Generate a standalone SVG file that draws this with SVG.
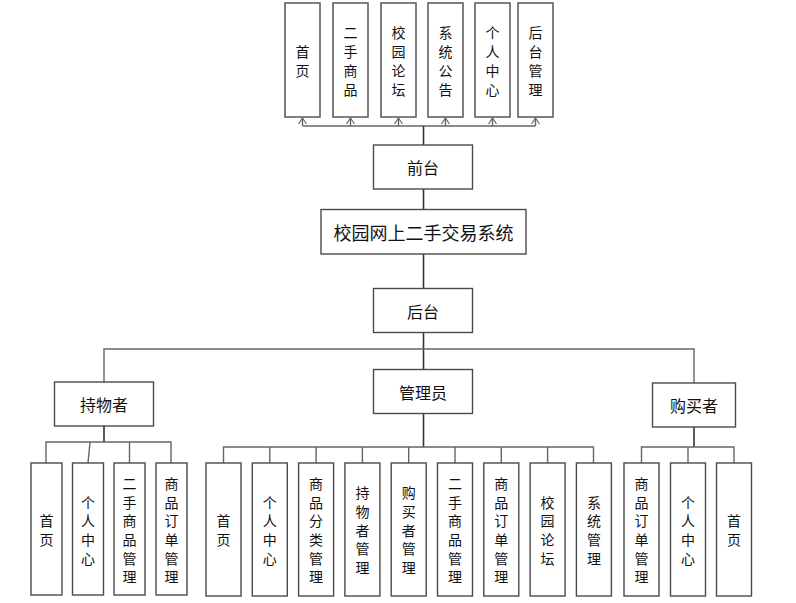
<svg xmlns="http://www.w3.org/2000/svg" width="796" height="603" viewBox="0 0 796 603">
<style>
.box{fill:#fff;stroke:#4a4a4a;stroke-width:1.4}
.ln{fill:none;stroke:#666;stroke-width:1.4}
.tr{fill:none;stroke:#333;stroke-width:1.6}
text{font-family:"Noto Sans CJK SC","Noto Sans",sans-serif;fill:#111;text-anchor:middle;dominant-baseline:central}
.v{font-size:14px}
.h{font-size:16px}
.t{font-size:18px}
</style>
<defs>
<marker id="arr" markerWidth="10" markerHeight="10" refX="8" refY="5" orient="auto" markerUnits="userSpaceOnUse">
<path d="M2,1 L8,5 L2,9" fill="none" stroke="#666" stroke-width="1.2"/>
</marker>
</defs>
<rect width="796" height="603" fill="#fff"/>
<g id="connectors">
<!-- top bus -->
<path class="ln" d="M302.5,126 H535.5"/>
<path class="ln" d="M302.5,126 V118" marker-end="url(#arr)"/>
<path class="ln" d="M350.5,126 V118" marker-end="url(#arr)"/>
<path class="ln" d="M398.5,126 V118" marker-end="url(#arr)"/>
<path class="ln" d="M445.5,126 V118" marker-end="url(#arr)"/>
<path class="ln" d="M492.5,126 V118" marker-end="url(#arr)"/>
<path class="ln" d="M535.5,126 V118" marker-end="url(#arr)"/>
<path class="tr" d="M423.5,126 V145"/>
<path class="tr" d="M423.5,189 V209"/>
<path class="tr" d="M423.5,254 V288"/>
<path class="tr" d="M423.5,333 V369"/>
<path class="ln" d="M104,382 V349 H694 V383"/>
<!-- left children -->
<path class="tr" d="M104,426 V442"/>
<path class="ln" d="M46,463 V442 H171 V463"/>
<path class="ln" d="M90,442 L88,463"/>
<path class="ln" d="M129.5,442 V463"/>
<!-- middle children -->
<path class="tr" d="M423.5,413 V447"/>
<path class="ln" d="M223.5,463 V447 H593.5 V463"/>
<path class="ln" d="M269.8,447 V463 M316.1,447 V463 M362.4,447 V463 M408.7,447 V463 M455,447 V463 M501.3,447 V463 M547.6,447 V463"/>
<!-- right children -->
<path class="tr" d="M694,427 V447"/>
<path class="ln" d="M641.5,463 V447 H734 V463"/>
<path class="ln" d="M688,447 V463"/>
</g>
<g id="n-front-home"><rect class="box" x="285" y="3" width="35" height="114"/><text class="v"><tspan x="302.5" y="50.5">首</tspan><tspan x="302.5" y="69.5">页</tspan></text></g>
<g id="n-front-goods"><rect class="box" x="333" y="3" width="35" height="114"/><text class="v"><tspan x="350.5" y="31.5">二</tspan><tspan x="350.5" y="50.5">手</tspan><tspan x="350.5" y="69.5">商</tspan><tspan x="350.5" y="88.5">品</tspan></text></g>
<g id="n-front-forum"><rect class="box" x="381" y="3" width="35" height="114"/><text class="v"><tspan x="398.5" y="31.5">校</tspan><tspan x="398.5" y="50.5">园</tspan><tspan x="398.5" y="69.5">论</tspan><tspan x="398.5" y="88.5">坛</tspan></text></g>
<g id="n-front-notice"><rect class="box" x="428" y="3" width="35" height="114"/><text class="v"><tspan x="445.5" y="31.5">系</tspan><tspan x="445.5" y="50.5">统</tspan><tspan x="445.5" y="69.5">公</tspan><tspan x="445.5" y="88.5">告</tspan></text></g>
<g id="n-front-center"><rect class="box" x="475" y="3" width="35" height="114"/><text class="v"><tspan x="492.5" y="31.5">个</tspan><tspan x="492.5" y="50.5">人</tspan><tspan x="492.5" y="69.5">中</tspan><tspan x="492.5" y="88.5">心</tspan></text></g>
<g id="n-front-admin"><rect class="box" x="518" y="3" width="35" height="114"/><text class="v"><tspan x="535.5" y="31.5">后</tspan><tspan x="535.5" y="50.5">台</tspan><tspan x="535.5" y="69.5">管</tspan><tspan x="535.5" y="88.5">理</tspan></text></g>
<g id="n-front"><rect class="box" x="373.5" y="145" width="99" height="44"/><text class="h" x="423" y="167">前台</text></g>
<g id="n-system"><rect class="box" x="321" y="209.5" width="205" height="44.5"/><text class="t" x="423.5" y="232">校园网上二手交易系统</text></g>
<g id="n-back"><rect class="box" x="373.5" y="288.5" width="99" height="44"/><text class="h" x="423" y="310.5">后台</text></g>
<g id="n-holder"><rect class="box" x="54.5" y="382" width="99" height="44"/><text class="h" x="104" y="404">持物者</text></g>
<g id="n-admin"><rect class="box" x="373.5" y="369.5" width="99" height="44"/><text class="h" x="423" y="391.5">管理员</text></g>
<g id="n-buyer"><rect class="box" x="652.5" y="383" width="83" height="44"/><text class="h" x="694" y="405">购买者</text></g>
<!-- holder children -->
<g id="n-h-home"><rect class="box" x="31" y="463" width="31" height="132"/><text class="v"><tspan x="46.5" y="520">首</tspan><tspan x="46.5" y="539">页</tspan></text></g>
<g id="n-h-center"><rect class="box" x="72.5" y="463" width="31" height="132"/><text class="v"><tspan x="88" y="501.5">个</tspan><tspan x="88" y="520.2">人</tspan><tspan x="88" y="538.9">中</tspan><tspan x="88" y="557.6">心</tspan></text></g>
<g id="n-h-goods"><rect class="box" x="114" y="463" width="31" height="132"/><text class="v"><tspan x="129.5" y="482.8">二</tspan><tspan x="129.5" y="501.5">手</tspan><tspan x="129.5" y="520.2">商</tspan><tspan x="129.5" y="538.9">品</tspan><tspan x="129.5" y="557.6">管</tspan><tspan x="129.5" y="576.3">理</tspan></text></g>
<g id="n-h-order"><rect class="box" x="156" y="463" width="31" height="132"/><text class="v"><tspan x="171.5" y="482.8">商</tspan><tspan x="171.5" y="501.5">品</tspan><tspan x="171.5" y="520.2">订</tspan><tspan x="171.5" y="538.9">单</tspan><tspan x="171.5" y="557.6">管</tspan><tspan x="171.5" y="576.3">理</tspan></text></g>
<!-- admin children -->
<g id="n-a-home"><rect class="box" x="206" y="463" width="35" height="133"/><text class="v"><tspan x="223.5" y="520">首</tspan><tspan x="223.5" y="539">页</tspan></text></g>
<g id="n-a-center"><rect class="box" x="252.3" y="463" width="35" height="133"/><text class="v"><tspan x="269.8" y="501.5">个</tspan><tspan x="269.8" y="520.2">人</tspan><tspan x="269.8" y="538.9">中</tspan><tspan x="269.8" y="557.6">心</tspan></text></g>
<g id="n-a-cat"><rect class="box" x="298.6" y="463" width="35" height="133"/><text class="v"><tspan x="316.1" y="482.8">商</tspan><tspan x="316.1" y="501.5">品</tspan><tspan x="316.1" y="520.2">分</tspan><tspan x="316.1" y="538.9">类</tspan><tspan x="316.1" y="557.6">管</tspan><tspan x="316.1" y="576.3">理</tspan></text></g>
<g id="n-a-holder"><rect class="box" x="344.9" y="463" width="35" height="133"/><text class="v"><tspan x="362.4" y="492.2">持</tspan><tspan x="362.4" y="510.9">物</tspan><tspan x="362.4" y="529.6">者</tspan><tspan x="362.4" y="548.3">管</tspan><tspan x="362.4" y="567">理</tspan></text></g>
<g id="n-a-buyer"><rect class="box" x="391.2" y="463" width="35" height="133"/><text class="v"><tspan x="408.7" y="492.2">购</tspan><tspan x="408.7" y="510.9">买</tspan><tspan x="408.7" y="529.6">者</tspan><tspan x="408.7" y="548.3">管</tspan><tspan x="408.7" y="567">理</tspan></text></g>
<g id="n-a-goods"><rect class="box" x="437.5" y="463" width="35" height="133"/><text class="v"><tspan x="455" y="482.8">二</tspan><tspan x="455" y="501.5">手</tspan><tspan x="455" y="520.2">商</tspan><tspan x="455" y="538.9">品</tspan><tspan x="455" y="557.6">管</tspan><tspan x="455" y="576.3">理</tspan></text></g>
<g id="n-a-order"><rect class="box" x="483.8" y="463" width="35" height="133"/><text class="v"><tspan x="501.3" y="482.8">商</tspan><tspan x="501.3" y="501.5">品</tspan><tspan x="501.3" y="520.2">订</tspan><tspan x="501.3" y="538.9">单</tspan><tspan x="501.3" y="557.6">管</tspan><tspan x="501.3" y="576.3">理</tspan></text></g>
<g id="n-a-forum"><rect class="box" x="530.1" y="463" width="35" height="133"/><text class="v"><tspan x="547.6" y="501.5">校</tspan><tspan x="547.6" y="520.2">园</tspan><tspan x="547.6" y="538.9">论</tspan><tspan x="547.6" y="557.6">坛</tspan></text></g>
<g id="n-a-sys"><rect class="box" x="576.4" y="463" width="35" height="133"/><text class="v"><tspan x="593.9" y="501.5">系</tspan><tspan x="593.9" y="520.2">统</tspan><tspan x="593.9" y="538.9">管</tspan><tspan x="593.9" y="557.6">理</tspan></text></g>
<!-- buyer children -->
<g id="n-b-order"><rect class="box" x="624" y="463" width="35" height="133"/><text class="v"><tspan x="641.5" y="482.8">商</tspan><tspan x="641.5" y="501.5">品</tspan><tspan x="641.5" y="520.2">订</tspan><tspan x="641.5" y="538.9">单</tspan><tspan x="641.5" y="557.6">管</tspan><tspan x="641.5" y="576.3">理</tspan></text></g>
<g id="n-b-center"><rect class="box" x="670.5" y="463" width="35" height="133"/><text class="v"><tspan x="688" y="501.5">个</tspan><tspan x="688" y="520.2">人</tspan><tspan x="688" y="538.9">中</tspan><tspan x="688" y="557.6">心</tspan></text></g>
<g id="n-b-home"><rect class="box" x="716.5" y="463" width="35" height="133"/><text class="v"><tspan x="734" y="520">首</tspan><tspan x="734" y="539">页</tspan></text></g>
</svg>
